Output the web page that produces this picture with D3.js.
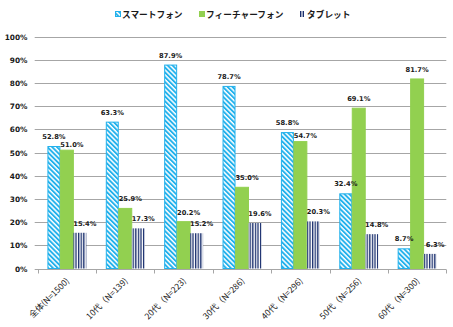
<!DOCTYPE html>
<html><head><meta charset="utf-8">
<script src="https://cdn.jsdelivr.net/npm/d3@7"></script>
<style>
html,body{margin:0;padding:0;background:#fff;}
text{font-family:"DejaVu Sans",sans-serif;}
</style></head>
<body><svg id="c" width="453" height="327"></svg>
<script>
const categories = ["全体(N=1500)","10代（N=139)","20代（N=223)","30代（N=286)","40代（N=296)","50代（N=256)","60代（N=300)"];
const seriesNames = ["スマートフォン","フィーチャーフォン","タブレット"];
const smartphone = [52.8,63.3,87.9,78.7,58.8,32.4,8.7];
const featurephone = [51.0,25.9,20.2,35.0,54.7,69.1,81.7];
const tablet = [15.4,17.3,15.2,19.6,20.3,14.8,6.3];
const yTicks = [0,10,20,30,40,50,60,70,80,90,100];

const values = [smartphone, featurephone, tablet];
const svg = d3.select("#c");
const defs = svg.append("defs");

const p1 = defs.append("pattern").attr("id","hatch").attr("patternUnits","userSpaceOnUse")
  .attr("width",3.4).attr("height",3.4).attr("patternTransform","rotate(-45)");
p1.append("rect").attr("width",3.4).attr("height",3.4).attr("fill","#fff");
p1.append("rect").attr("width",1.9).attr("height",3.4).attr("fill","#22b1ec");
const p2 = defs.append("pattern").attr("id","vstripe").attr("patternUnits","userSpaceOnUse")
  .attr("width",2.6).attr("height",4);
p2.append("rect").attr("width",2.6).attr("height",4).attr("fill","#fff");
p2.append("rect").attr("width",1.3).attr("height",4).attr("fill","#1a2f6e");

const fills = ["url(#hatch)","#92d050","url(#vstripe)"];
const strokes = ["#22b1ec","#92d050","none"];

const pLeft = 37.7, pRight = 446.3, pTop = 36.5, pBottom = 268.5;
const x0 = d3.scaleBand().domain(categories).range([pLeft,pRight]).padding(0);
const step = x0.bandwidth();
const bw = step/4.5;
const x1 = d3.scaleBand().domain([0,1,2]).range([0.75*bw, step-0.75*bw]).padding(0);
const y = d3.scaleLinear().domain([0,100]).range([pBottom,pTop]);

svg.append("g").selectAll("line").data(yTicks).join("line")
  .attr("x1",pLeft-3).attr("x2",pRight).attr("y1",d=>Math.round(y(d))+0.5).attr("y2",d=>Math.round(y(d))+0.5)
  .attr("stroke","#a6a6a6").attr("stroke-width",1);

svg.append("g").selectAll("text").data(yTicks).join("text")
  .attr("x",27.5).attr("y",d=>y(d)+3).attr("text-anchor","end")
  .attr("fill","#1a1a1a").attr("font-weight","bold").style("font-size","7.4px")
  .text(d=>d+"%");

const bounds = categories.map(c=>x0(c)).concat([pRight]);
svg.append("g").selectAll("line").data(bounds).join("line")
  .attr("x1",d=>Math.round(d)+0.5).attr("x2",d=>Math.round(d)+0.5)
  .attr("y1",Math.round(pBottom)+0.5).attr("y2",Math.round(pBottom)+4.5)
  .attr("stroke","#a6a6a6");

const rows = [];
categories.forEach((c,i)=>values.forEach((arr,s)=>rows.push({c,i,s,v:arr[i]})));
svg.append("g").selectAll("rect").data(rows).join("rect")
  .attr("x",d=>x0(d.c)+x1(d.s)+(d.s===0?0.5:0))
  .attr("width",d=>x1.bandwidth()-(d.s===0?1:0))
  .attr("y",d=>y(d.v)+(d.s===0?0.5:0))
  .attr("height",d=>pBottom-y(d.v)-(d.s===0?0.5:0))
  .attr("fill",d=>fills[d.s]).attr("stroke",d=>strokes[d.s]).attr("stroke-width",1);

// label placement: green labels close under a taller smartphone bar are nudged down/right
function crowded(d){ return d.s===1 && smartphone[d.i]-d.v>0 && smartphone[d.i]-d.v<5; }
svg.append("g").selectAll("text").data(rows).join("text")
  .attr("x",d=>x0(d.c)+x1(d.s)+x1.bandwidth()/2+(d.s===0||(d.s===1&&d.i>=5)?0:5))
  .attr("y",d=>y(d.v)-(crowded(d)?3.5:7)).attr("text-anchor","middle")
  .attr("fill","#1a1a1a").attr("font-weight","bold").style("font-size","6.7px")
  .text(d=>d.v.toFixed(1)+"%");

svg.append("g").selectAll("text").data(categories).join("text")
  .attr("transform",c=>`translate(${x0(c)+step/2+3},${pBottom+13}) rotate(-45)`)
  .attr("text-anchor","end").attr("fill","#1a1a1a")
  .style("font-family","'Noto Sans CJK JP',sans-serif").style("font-size","8.5px")
  .text(c=>c);

const lg = svg.append("g");
const lx = [115,199,300];
seriesNames.forEach((n,i)=>{
  if(i===0){
    lg.append("rect").attr("x",lx[i]+0.5).attr("y",11.5).attr("width",5).attr("height",5)
      .attr("fill","url(#hatch)").attr("stroke","#22b1ec");
  } else if(i===1){
    lg.append("rect").attr("x",lx[i]).attr("y",11).attr("width",6).attr("height",6).attr("fill","#92d050");
  } else {
    lg.append("rect").attr("x",lx[i]).attr("y",11).attr("width",1.4).attr("height",6).attr("fill","#1a2f6e");
    lg.append("rect").attr("x",lx[i]+2.6).attr("y",11).attr("width",1.4).attr("height",6).attr("fill","#1a2f6e");
  }
  lg.append("text").attr("x",lx[i]+7).attr("y",17.5).attr("fill","#1a1a1a")
    .style("font-family","'Noto Sans CJK JP',sans-serif").style("font-size","8.7px").attr("font-weight","bold")
    .text(n);
});
</script></body></html>
